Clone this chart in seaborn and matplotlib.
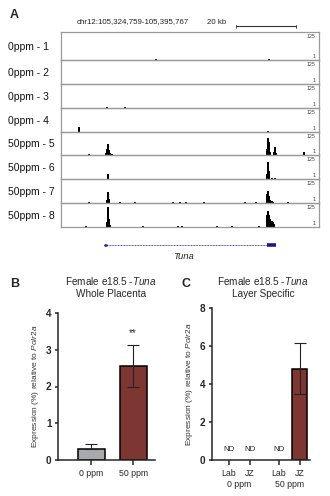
import numpy as np
import pandas as pd
import matplotlib
matplotlib.use("Agg")
import matplotlib.pyplot as plt
import seaborn as sns

# ---------------- data ----------------
region_label = "chr12:105,324,759-105,395,767"
region_span_kb = 71.008
scale_bar_kb = 20
track_names = ["0ppm - 1", "0ppm - 2", "0ppm - 3", "0ppm - 4",
               "50ppm - 5", "50ppm - 6", "50ppm - 7", "50ppm - 8"]
track_max = 125
# peak positions (kb from region start) and heights (signal, max 125)
peak_pos = [
    [26.1, 57.1, 57.4],
    [],
    [12.7, 17.6],
    [4.9, 57.0],
    [7.7, 12.4, 12.7, 12.95, 13.2, 13.5, 14.0, 56.7, 56.95, 57.2, 57.45,
     58.7, 58.95, 59.2, 66.9],
    [12.95, 56.7, 56.95, 57.2, 58.1, 58.9],
    [7.7, 12.7, 12.95, 13.2, 16.2, 20.4, 30.8, 32.8, 34.4, 39.4, 50.6, 53.6,
     56.7, 56.95, 57.2, 57.45, 58.0, 58.5, 62.5],
    [6.9, 12.7, 12.95, 13.2, 13.5, 22.6, 32.2, 33.3, 42.9, 47.0, 54.5,
     56.7, 56.95, 57.2, 57.45, 58.0, 58.3, 58.6],
]
peak_h = [
    [4, 4, 3],
    [],
    [4, 3],
    [28, 6],
    [4, 14, 35, 68, 28, 10, 5, 35, 105, 80, 18, 18, 50, 12, 16],
    [30, 30, 100, 45, 5, 4],
    [5, 18, 62, 22, 6, 4, 5, 3, 4, 7, 4, 4, 50, 68, 40, 18, 9, 7, 7],
    [4, 30, 118, 45, 10, 5, 5, 4, 5, 4, 6, 70, 92, 70, 45, 35, 32, 18],
]
gene_name = "Tuna"
gene_start_kb, gene_end_kb = 12.1, 59.2
gene_thick_start_kb = 56.7

b_groups = ["0 ppm", "50 ppm"]
b_mean = [0.31, 2.55]
b_err_low = [0.0, 0.55]
b_err_high = [0.125, 0.57]
b_sig = "**"

c_tissue = ["Lab", "JZ", "Lab", "JZ"]
c_dose = ["0 ppm", "0 ppm", "50 ppm", "50 ppm"]
c_pos = [0.0, 1.0, 2.4, 3.4]
c_mean = [np.nan, np.nan, np.nan, 4.79]
c_err_low = [0, 0, 0, 1.33]
c_err_high = [0, 0, 0, 1.38]
c_nd = ["ND", "ND", "ND", ""]

gray = "#a7a9ae"
red = "#8a2b24"

# ---------------- style ----------------
sns.set_style("ticks")
plt.rcParams["font.family"] = ["Liberation Sans", "DejaVu Sans"]
plt.rcParams["mathtext.fontset"] = "custom"
plt.rcParams["mathtext.rm"] = "Liberation Sans"
plt.rcParams["mathtext.it"] = "Liberation Sans:italic"
plt.rcParams["mathtext.bf"] = "Liberation Sans:bold"

W, H = 330, 496
fig = plt.figure(figsize=(W / 100, H / 100), dpi=100)
fig.patch.set_facecolor("white")


def rect(x0, y0, x1, y1):
    return [x0 / W, 1 - y1 / H, (x1 - x0) / W, (y1 - y0) / H]


def fx(x):
    return x / W


def fy(y):
    return 1 - y / H


# ---------------- panel A ----------------
fig.text(fx(10), fy(15), "A", fontsize=9, fontweight="bold", va="center", ha="left")
fig.text(fx(77), fy(22), region_label, fontsize=5.7, va="center", ha="left", color="#222")
fig.text(fx(207), fy(22), f"{scale_bar_kb} kb", fontsize=5.7, va="center", ha="left", color="#222")

bounds = [32, 60, 84, 108, 132, 155, 179, 203, 227]
X0, X1 = 61, 319
edge = "#9a9a9a"
for i, name in enumerate(track_names):
    ax = fig.add_axes(rect(X0, bounds[i], X1, bounds[i + 1]))
    ax.patch.set_alpha(0)
    ax.bar(peak_pos[i], peak_h[i], width=0.45, color="black", linewidth=0)
    ax.set_xlim(0, region_span_kb)
    ax.set_ylim(0, track_max * 1.12)
    ax.set_xticks([])
    ax.set_yticks([])
    for s in ax.spines.values():
        s.set_color(edge)
        s.set_linewidth(0.9)
    ax.text(0.988, 0.93, str(track_max), transform=ax.transAxes, fontsize=3.8,
            ha="right", va="top", color="#444")
    ax.text(0.988, 0.04, "1", transform=ax.transAxes, fontsize=3.8,
            ha="right", va="bottom", color="#444")
    fig.text(fx(8), fy((bounds[i] + bounds[i + 1]) / 2 + 1), name, fontsize=7.5,
             ha="left", va="center", color="#111")
    if i == 0:
        xa, xb = 48.2, 64.7
        ax.plot([xa, xb], [1.35 * track_max] * 2, color="#333", lw=0.8, clip_on=False)
        for xe in [xa, xb]:
            ax.plot([xe, xe], [1.28 * track_max, 1.42 * track_max], color="#333",
                    lw=0.6, clip_on=False)

gax = fig.add_axes(rect(X0, 235, X1, 262))
gax.set_xlim(0, region_span_kb)
gax.set_ylim(0, 1)
gax.axis("off")
gax.plot([gene_start_kb, gene_end_kb], [0.62, 0.62], color="#4a4ad0", lw=0.7, ls=(0, (1, 0.6)))
gax.plot([gene_start_kb, gene_start_kb + 0.4], [0.62, 0.62], color="#2a2a9a", lw=2)
gax.plot([gene_thick_start_kb, gene_end_kb], [0.62, 0.62], color="#1c1c86", lw=2.6,
         solid_capstyle="butt")
gax.text((gene_start_kb + gene_end_kb) / 2 - 2, 0.2, gene_name, fontsize=6.8,
         style="italic", ha="center", va="center")

ylab = r"Expression (%) relative to $\it{Polr2a}$"

# ---------------- panel B ----------------
axB = fig.add_axes(rect(58, 313, 155, 460))
dfB = pd.DataFrame({"dose": b_groups, "expr": b_mean})
sns.barplot(data=dfB, x="dose", y="expr", hue="dose", palette=[gray, red],
            edgecolor="black", linewidth=1.1, width=0.64, errorbar=None,
            legend=False, ax=axB, zorder=2)
axB.errorbar(range(len(b_groups)), b_mean, yerr=[b_err_low, b_err_high], fmt="none",
             ecolor="#222", elinewidth=0.8, capsize=4.5, capthick=0.8, zorder=3)
axB.text(1, b_mean[1] + b_err_high[1] + 0.33, b_sig, ha="center", va="center", fontsize=7)
axB.set_ylim(0, 4)
axB.set_xlim(-0.79, 1.52)
axB.set_yticks([0, 1, 2, 3, 4])
axB.set_xlabel("")
axB.set_ylabel(ylab, fontsize=6, labelpad=4, color="#333")
sns.despine(ax=axB)
for s in ["left", "bottom"]:
    axB.spines[s].set_linewidth(1.1)
axB.tick_params(axis="y", labelsize=7.2, width=1.1, length=2.5, pad=2)
axB.tick_params(axis="x", labelsize=6.3, width=1.1, length=3.5, pad=3)
for lab in axB.get_yticklabels():
    lab.set_fontweight("bold")
fig.text(fx(10), fy(284), "B", fontsize=9, fontweight="bold", va="center", ha="left")
fig.text(fx(111), fy(281), r"Female e18.5 -$\it{Tuna}$", fontsize=7.2, ha="center", va="center")
fig.text(fx(111), fy(294), "Whole Placenta", fontsize=7.2, ha="center", va="center")

# ---------------- panel C ----------------
axC = fig.add_axes(rect(212, 308, 310, 460))
dfC = pd.DataFrame({"pos": c_pos, "expr": c_mean})
sns.barplot(data=dfC, x="pos", y="expr", native_scale=True, color=red,
            edgecolor="black", linewidth=1.1, width=0.75, errorbar=None,
            ax=axC, zorder=2)
errmask = [i for i, m in enumerate(c_mean) if not np.isnan(m)]
axC.errorbar([c_pos[i] for i in errmask], [c_mean[i] for i in errmask],
             yerr=[[c_err_low[i] for i in errmask], [c_err_high[i] for i in errmask]],
             fmt="none", ecolor="#222", elinewidth=0.8, capsize=4.5, capthick=0.8, zorder=3)
for p, nd in zip(c_pos, c_nd):
    if nd:
        axC.text(p, 0.55, nd, ha="center", va="center", fontsize=5.6, color="#222")
axC.set_ylim(0, 8)
axC.set_xlim(-0.82, 3.9)
axC.set_yticks([0, 2, 4, 6, 8])
axC.set_xticks(c_pos)
axC.set_xticklabels(c_tissue)
axC.set_xlabel("")
axC.set_ylabel(ylab, fontsize=6, labelpad=4, color="#333")
sns.despine(ax=axC)
for s in ["left", "bottom"]:
    axC.spines[s].set_linewidth(1.1)
axC.tick_params(axis="y", labelsize=7.2, width=1.1, length=2.5, pad=2)
axC.tick_params(axis="x", labelsize=6.3, width=1.1, length=3.5, pad=3)
for lab in axC.get_yticklabels():
    lab.set_fontweight("bold")
for dose in ["0 ppm", "50 ppm"]:
    ps = [p for p, d in zip(c_pos, c_dose) if d == dose]
    axC.text(np.mean(ps), -0.16, dose, transform=axC.get_xaxis_transform(),
             ha="center", va="center", fontsize=6.3)
fig.text(fx(181), fy(284), "C", fontsize=9, fontweight="bold", va="center", ha="left")
fig.text(fx(263), fy(281), r"Female e18.5 -$\it{Tuna}$", fontsize=7.2, ha="center", va="center")
fig.text(fx(263), fy(294), "Layer Specific", fontsize=7.2, ha="center", va="center")

fig.savefig("out.png", dpi=100, facecolor="white")
